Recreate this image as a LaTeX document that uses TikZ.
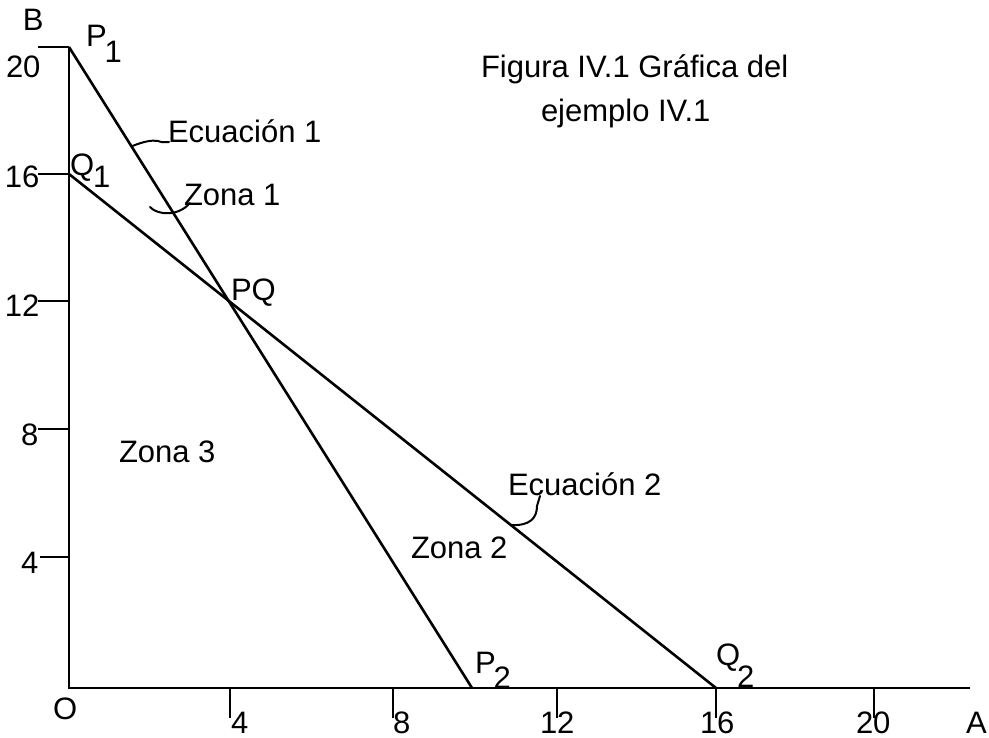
\documentclass[tikz,border=0pt]{standalone}
\usepackage{fontspec}
\setmainfont{Liberation Sans}
\usetikzlibrary{calc}
\tikzset{
  lbl/.style={anchor=base west,inner sep=0pt,outer sep=0pt,font=\fontsize{31}{36}\selectfont},
  axisline/.style={line width=2.8pt},
  eqline/.style={line width=2.6pt},
  tickline/.style={line width=2.4pt},
  callout/.style={line width=2pt,line cap=round},
}
\begin{document}
\begin{tikzpicture}[x=1pt,y=-1pt]
\useasboundingbox (0,0) rectangle (989,738);
% key points
\coordinate (O) at (69,688);
\coordinate (Btop) at (69,47);
\coordinate (Aend) at (970,688);
\coordinate (P1) at (69,47);
\coordinate (P2) at (472,688);
\coordinate (Q1) at (69,174);
\coordinate (Q2) at (716,688);
% axes
\draw[axisline] (Btop) -- (O) -- (Aend);
% y ticks
\coordinate (y20) at (69,47);  \coordinate (y20l) at (38,47);
\coordinate (y16) at (69,174); \coordinate (y16l) at (38,174);
\coordinate (y12) at (69,301); \coordinate (y12l) at (38,301);
\coordinate (y8) at (69,429);  \coordinate (y8l) at (38,429);
\coordinate (y4) at (69,557);  \coordinate (y4l) at (40,557);
\foreach \t in {20,16,12,8,4} \draw[tickline] (y\t) -- (y\t l);
% x ticks
\coordinate (x4) at (230,688);  \coordinate (x4b) at (230,718);
\coordinate (x8) at (393,688);  \coordinate (x8b) at (393,718);
\coordinate (x12) at (557,688); \coordinate (x12b) at (557,718);
\coordinate (x16) at (716,688); \coordinate (x16b) at (716,718);
\coordinate (x20) at (874,688); \coordinate (x20b) at (874,718);
\foreach \t in {4,8,12,16,20} \draw[tickline] (x\t) -- (x\t b);
% equation lines
\draw[eqline] (P1) -- (P2);
\draw[eqline] (Q1) -- (Q2);
% axis labels
\node[lbl] (B) at (23,31) {B};
\node[lbl] (A) at (966,733) {A};
\node[lbl] (Olbl) at (53,719) {O};
\node[lbl] (l20) at (6,78) {20};
\node[lbl] (l16) at (5,188) {16};
\node[lbl] (l12) at (5,317) {12};
\node[lbl] (l8) at (21,445) {8};
\node[lbl] (l4) at (21,573) {4};
\node[lbl] (b4) at (231,733) {4};
\node[lbl] (b8) at (393,733) {8};
\node[lbl] (b12) at (540,733) {12};
\node[lbl] (b16) at (700,733) {16};
\node[lbl] (b20) at (856,733) {20};
% point labels
\node[lbl] (P1lbl) at (86,47) {P\kern-2pt\raisebox{-16pt}{1}};
\node[lbl] (Q1lbl) at (70,176) {Q\kern-1pt\raisebox{-12pt}{1}};
\node[lbl] (P2lbl) at (475,673) {P\kern-2pt\raisebox{-15pt}{2}};
\node[lbl] (Q2lbl) at (716,665) {Q\kern-3pt\raisebox{-22pt}{2}};
\node[lbl] (PQ) at (231,301) {PQ};
% region and equation labels
\node[lbl] (eq1) at (168,143) {Ecuación 1};
\node[lbl] (z1) at (184,206) {Zona 1};
\node[lbl] (z2) at (411,558) {Zona 2};
\node[lbl] (z3) at (119,462) {Zona 3};
\node[lbl] (eq2) at (508,495) {Ecuación 2};
\node[lbl] (t1) at (481,78) {Figura IV.1 Gráfica del};
\node[lbl] (t2) at (541,122) {ejemplo IV.1};
% callouts
\coordinate (c1) at ($(P1)!0.155!(P2)$);
\coordinate (c1e) at (169,142);
\draw[callout] (c1) .. controls (145,141) and (152,140) .. (158,141)
  .. controls (163,143) and (165,142) .. (c1e);
\coordinate (z1s) at (150,207);
\coordinate (z1e) at (190,203);
\draw[callout] (z1s) .. controls (157,215) and (178,217) .. (z1e);
\coordinate (c2) at ($(Q1)!0.683!(Q2)$);
\coordinate (c2e) at (540,496);
\draw[callout] (c2) .. controls (530,526) and (537,518) .. (537,506) -- (c2e);
\end{tikzpicture}
\end{document}
